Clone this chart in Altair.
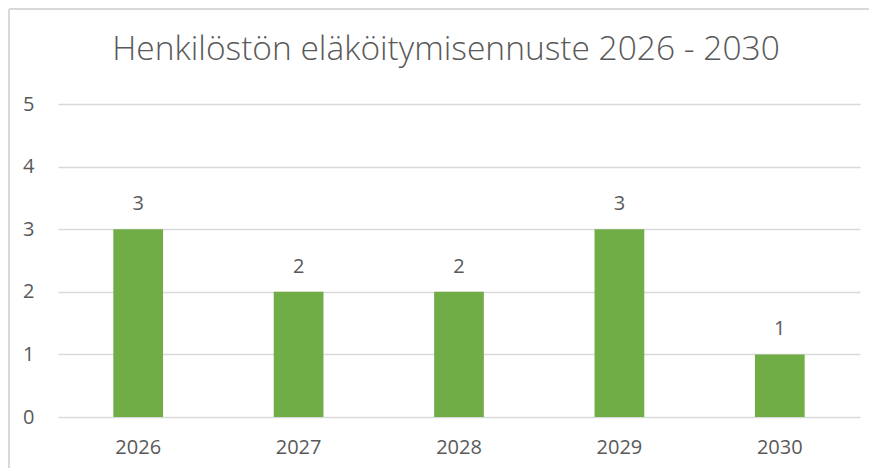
import altair as alt
import pandas as pd

years = ["2026", "2027", "2028", "2029", "2030"]
values = [3, 2, 2, 3, 1]
title_text = "Henkilöstön eläköitymisennuste 2026 - 2030"
y_ticks = [0, 1, 2, 3, 4, 5]

df = pd.DataFrame({"year": years, "value": values})

FONT = "Open Sans"
GRAY = "#595959"
BORDER = "#D9D9D9"

base = alt.Chart(df)

x_enc = alt.X("year:N", sort=years, title=None,
              scale=alt.Scale(paddingInner=0.69, paddingOuter=0.345),
              axis=alt.Axis(labelAngle=0, labelFontSize=20, labelColor=GRAY, labelFont=FONT,
                            labelPadding=20, ticks=False, domain=False, grid=False))
y_enc = alt.Y("value:Q", title=None,
              scale=alt.Scale(domain=[0, 5], nice=False),
              axis=alt.Axis(values=y_ticks, format="d", labelFontSize=20, labelColor=GRAY,
                            labelFont=FONT, labelPadding=24, ticks=False, domain=False,
                            gridColor=BORDER, gridWidth=1.5))

bars = base.mark_bar(color="#70AD47").encode(x=x_enc, y=y_enc)
labels = base.mark_text(fontSize=20, font=FONT, color=GRAY, baseline="bottom", dy=-15).encode(
    x=alt.X("year:N", sort=years), y="value:Q", text="value:Q")

# chart border (decoration, left and top edges)
border_left = alt.Chart(df.head(1)).mark_rule(color=BORDER, strokeWidth=2).encode(
    x=alt.value(-49), y=alt.value(-95), y2=alt.value(460))
border_top = alt.Chart(df.head(1)).mark_rule(color=BORDER, strokeWidth=2).encode(
    y=alt.value(-95), x=alt.value(-49), x2=alt.value(900))

chart = alt.layer(bars, labels, border_left, border_top).properties(
    width=802, height=313,
    title=alt.TitleParams(title_text, fontSize=33.5, font=FONT, fontWeight=300, color=GRAY,
                          anchor="middle", frame="group", offset=-59, dx=-13),
    autosize=alt.AutoSizeParams(type="none"),
    padding={"left": 50, "top": 96, "right": 9, "bottom": 51},
).configure_view(stroke=None)

chart.save("out.html", embed_options={"renderer": "svg", "actions": False})
